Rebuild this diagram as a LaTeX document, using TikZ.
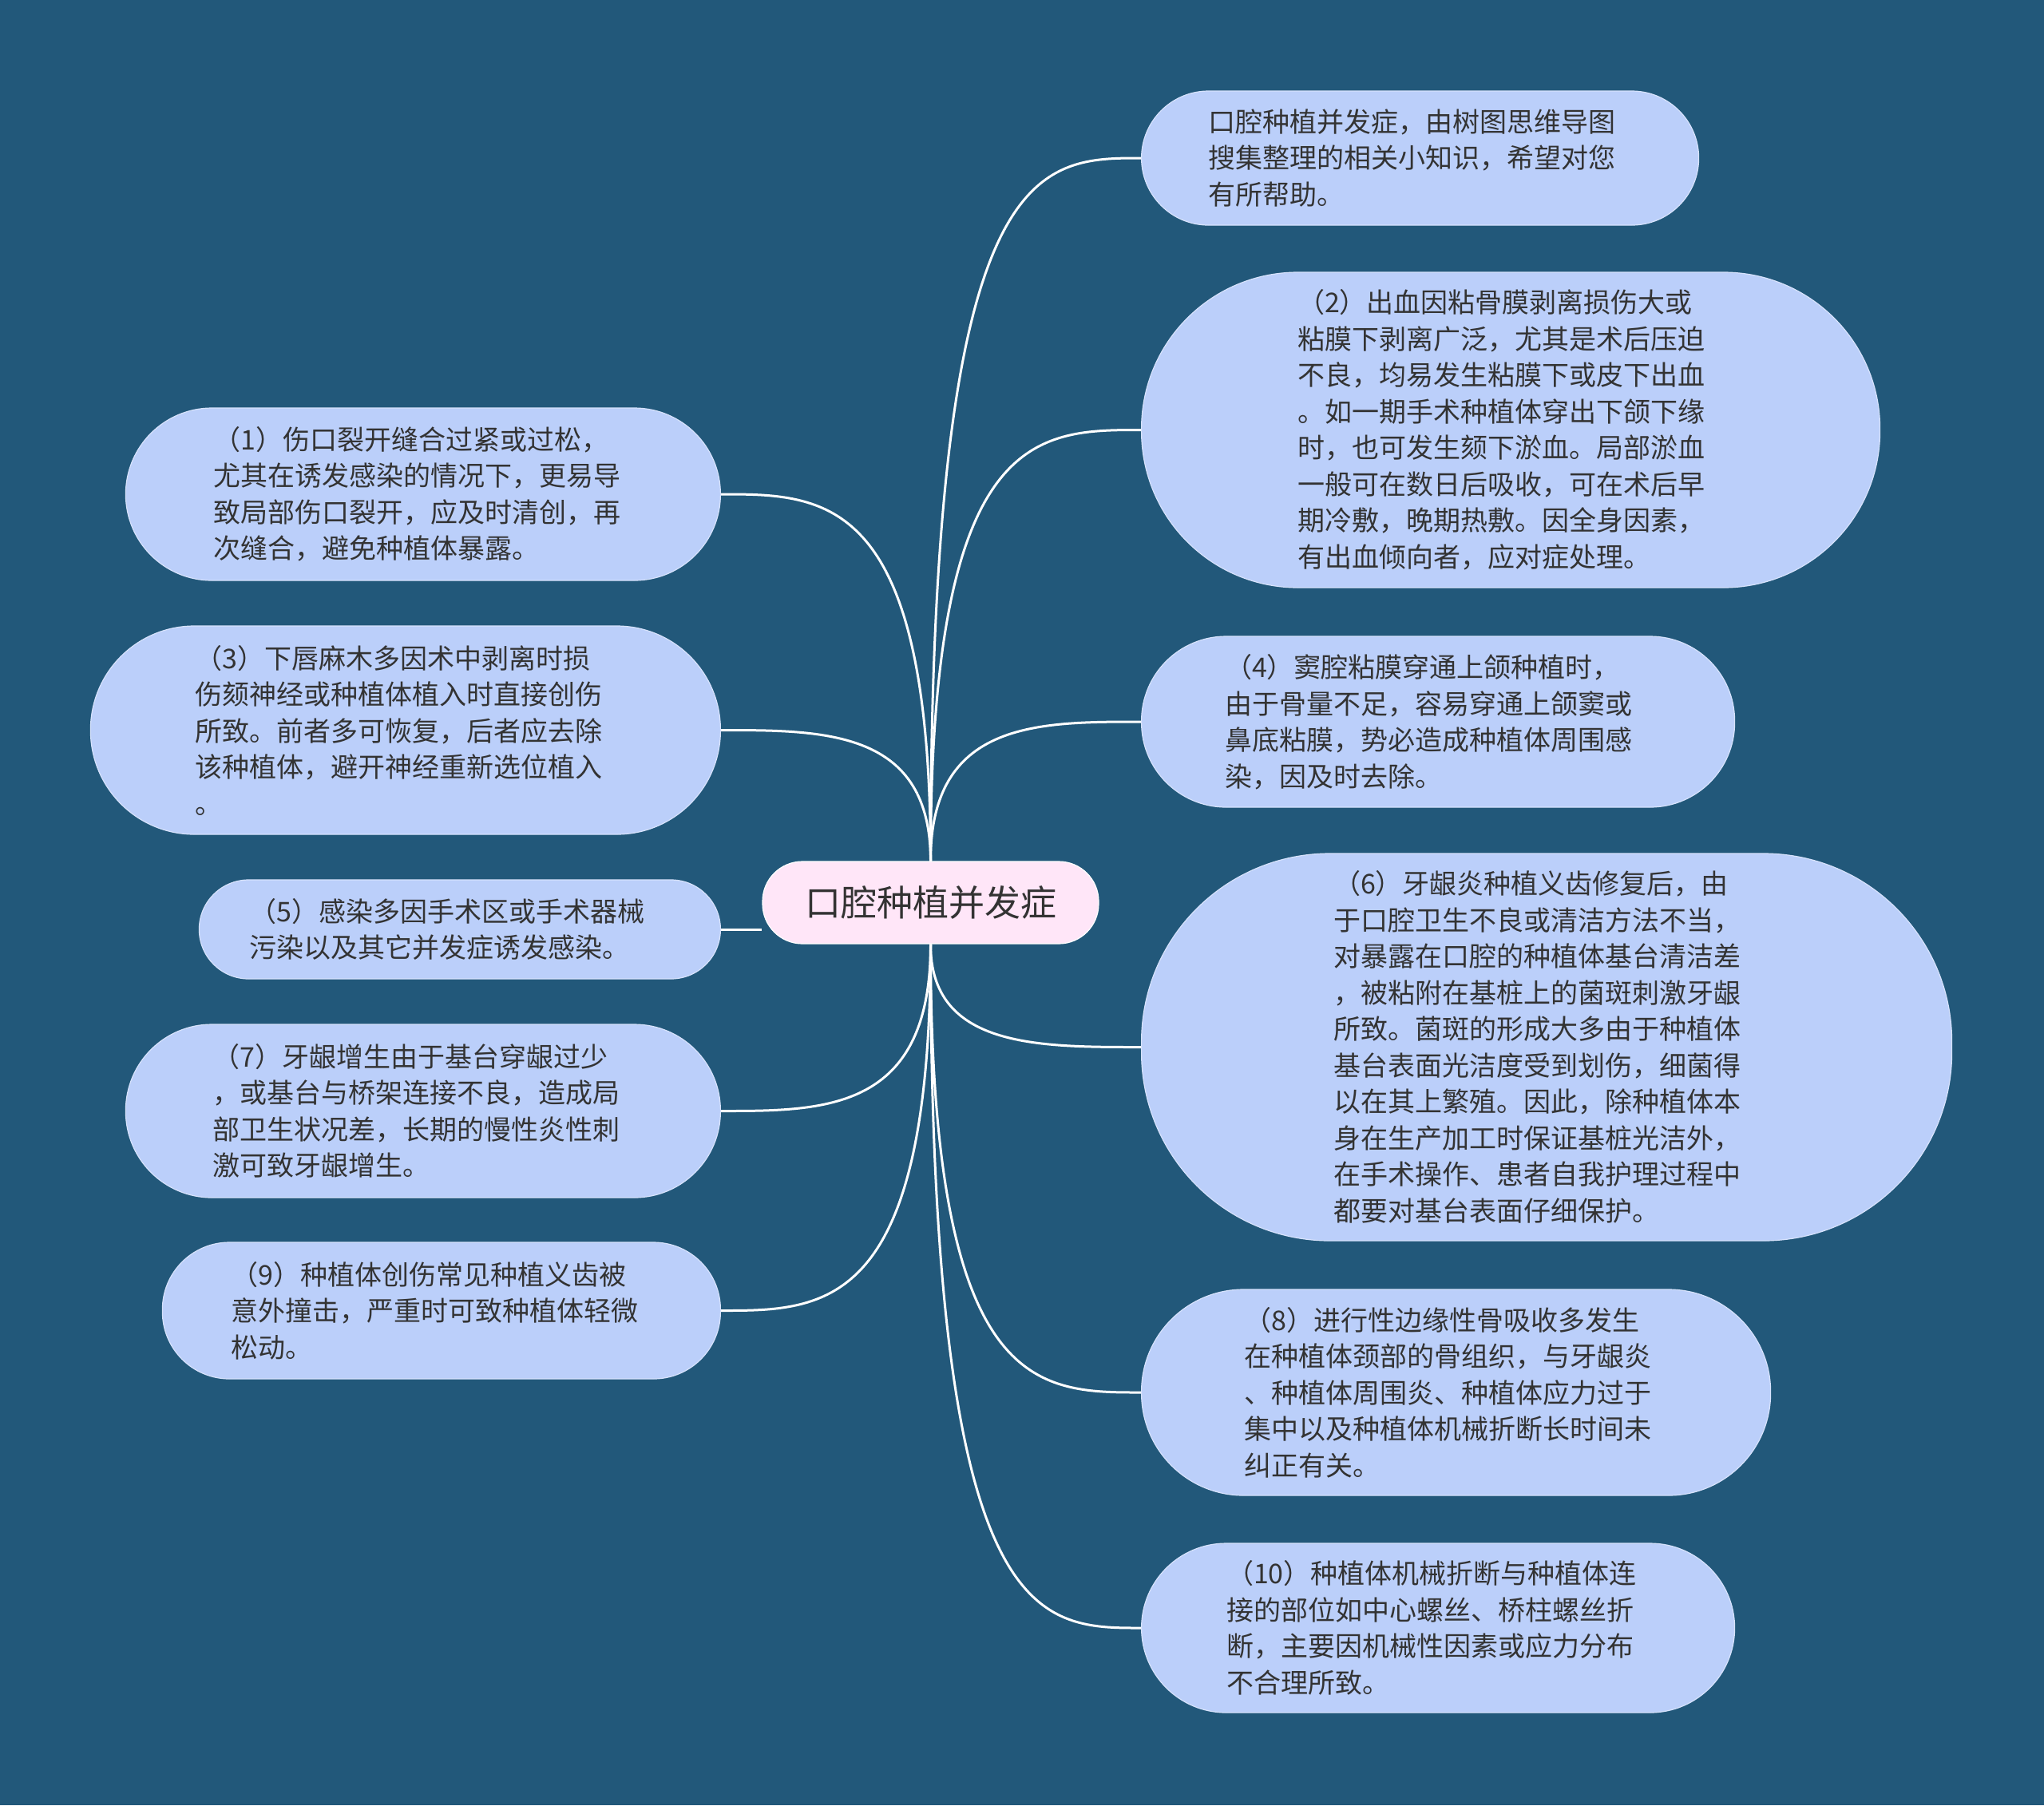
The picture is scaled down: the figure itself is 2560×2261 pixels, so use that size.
\documentclass[tikz,border=0pt]{standalone}
\usepackage{fontspec}
\newfontfamily\cjkfont{Noto Sans CJK SC}
\usepackage{tikz}
\usetikzlibrary{positioning, calc}
\definecolor{background}{HTML}{22587A}
\definecolor{leafblue}{HTML}{BBCFFA}
\definecolor{leafedge}{HTML}{D6E2FC}
\definecolor{rootpink}{HTML}{FFE6F8}
\definecolor{textgray}{HTML}{333333}
\newcommand{\leaffont}{\cjkfont\fontsize{17pt}{22.75pt}\selectfont}
\newcommand{\rootfont}{\cjkfont\fontsize{22.5pt}{27pt}\selectfont}
\newcommand{\padline}[1][10pt]{\kern#1}

\begin{document}
\begin{tikzpicture}[
        x=0.5pt, y=-0.5pt,
        topic/.style={rectangle, draw=white, line width=0.6pt, fill=rootpink, text=textgray, font=\rootfont, minimum width=210.5pt, minimum height=51.5pt, rounded corners=25pt},
        leaf/.style={rectangle, draw=leafedge, line width=0.6pt, fill=leafblue, text=textgray, font=\leaffont, align=left, inner sep=0pt},
        branch/.style={white, line width=1.5pt, to path={.. controls (\tikztostart |- \tikztotarget) and ($(\tikztostart |- \tikztotarget)!0.5!(\tikztotarget)$) .. (\tikztotarget)}}
    ]

    \fill[background] (0,0) rectangle (2560,2261);

    % Nodes
    \node (root) [topic] at (1165.5,1130.5) {口腔种植并发症};

    \node (tip) [leaf, anchor=west, minimum width=349pt, minimum height=84pt, rounded corners=42pt] at (1429,198)
        {口腔种植并发症，由树图思维导图\\搜集整理的相关小知识，希望对您\padline\\有所帮助。};
    \node (bleed) [leaf, anchor=west, minimum width=462.5pt, minimum height=197.5pt, rounded corners=98pt] at (1429,538.5)
        {（2）出血因粘骨膜剥离损伤大或\\粘膜下剥离广泛，尤其是术后压迫\padline[12pt]\\不良，均易发生粘膜下或皮下出血\\。如一期手术种植体穿出下颌下缘\\时，也可发生颏下淤血。局部淤血\\一般可在数日后吸收，可在术后早\\期冷敷，晚期热敷。因全身因素，\\有出血倾向者，应对症处理。};
    \node (sinus) [leaf, anchor=west, minimum width=371.5pt, minimum height=107pt, rounded corners=53pt] at (1429,904)
        {（4）窦腔粘膜穿通上颌种植时，\\由于骨量不足，容易穿通上颌窦或\padline[12pt]\\鼻底粘膜，势必造成种植体周围感\\染，因及时去除。};
    \node (gingivitis) [leaf, anchor=west, minimum width=507.5pt, minimum height=242.5pt, rounded corners=118pt] at (1429,1311.5)
        {（6）牙龈炎种植义齿修复后，由\\于口腔卫生不良或清洁方法不当，\padline[12pt]\\对暴露在口腔的种植体基台清洁差\\，被粘附在基桩上的菌斑刺激牙龈\\所致。菌斑的形成大多由于种植体\\基台表面光洁度受到划伤，细菌得\\以在其上繁殖。因此，除种植体本\\身在生产加工时保证基桩光洁外，\\在手术操作、患者自我护理过程中\\都要对基台表面仔细保护。};
    \node (boneloss) [leaf, anchor=west, minimum width=394pt, minimum height=129pt, rounded corners=64pt] at (1429,1744)
        {（8）进行性边缘性骨吸收多发生\\在种植体颈部的骨组织，与牙龈炎\padline\\、种植体周围炎、种植体应力过于\\集中以及种植体机械折断长时间未\\纠正有关。};
    \node (fracture) [leaf, anchor=west, minimum width=371.5pt, minimum height=106pt, rounded corners=53pt] at (1429,2039)
        {（10）种植体机械折断与种植体连\\接的部位如中心螺丝、桥柱螺丝折\padline\\断，主要因机械性因素或应力分布\\不合理所致。};

    \node (wound) [leaf, anchor=east, minimum width=372.5pt, minimum height=108pt, rounded corners=54pt] at (903,619)
        {（1）伤口裂开缝合过紧或过松，\\尤其在诱发感染的情况下，更易导\padline[7pt]\\致局部伤口裂开，应及时清创，再\\次缝合，避免种植体暴露。};
    \node (numb) [leaf, anchor=east, minimum width=394.5pt, minimum height=130.5pt, rounded corners=65pt] at (903,914.5)
        {（3）下唇麻木多因术中剥离时损\\伤颏神经或种植体植入时直接创伤\padline[8pt]\\所致。前者多可恢复，后者应去除\\该种植体，避开神经重新选位植入\\。};
    \node (infection) [leaf, anchor=east, minimum width=326.5pt, minimum height=62pt, rounded corners=31pt] at (903,1164)
        {（5）感染多因手术区或手术器械\padline[16pt]\\污染以及其它并发症诱发感染。};
    \node (hyperplasia) [leaf, anchor=east, minimum width=372.5pt, minimum height=108.5pt, rounded corners=54pt] at (903,1391.5)
        {（7）牙龈增生由于基台穿龈过少\\，或基台与桥架连接不良，造成局\padline[8pt]\\部卫生状况差，长期的慢性炎性刺\\激可致牙龈增生。};
    \node (trauma) [leaf, anchor=east, minimum width=349.5pt, minimum height=85.5pt, rounded corners=42pt] at (903,1641.5)
        {（9）种植体创伤常见种植义齿被\\意外撞击，严重时可致种植体轻微\padline[8pt]\\松动。};

    % Branches
    \draw [branch] (root.north) to (tip.west);
    \draw [branch] (root.north) to (bleed.west);
    \draw [branch] (root.north) to (sinus.west);
    \draw [branch] (root.south) to (gingivitis.west);
    \draw [branch] (root.south) to (boneloss.west);
    \draw [branch] (root.south) to (fracture.west);

    \draw [branch] (root.north) to (wound.east);
    \draw [branch] (root.north) to (numb.east);
    \draw [white, line width=1.5pt] (infection.east) -- (infection.east -| root.west);
    \draw [branch] (root.south) to (hyperplasia.east);
    \draw [branch] (root.south) to (trauma.east);

    \end{tikzpicture}
\end{document}
